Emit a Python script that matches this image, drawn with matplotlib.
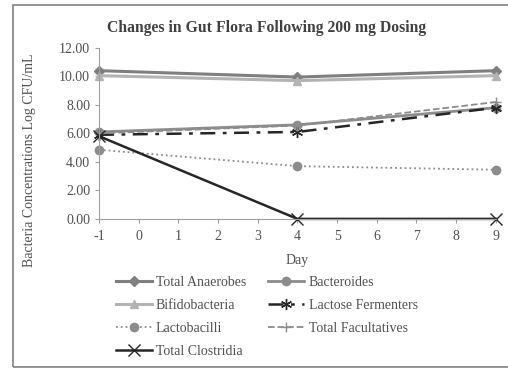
import matplotlib
matplotlib.use('Agg')
import matplotlib.pyplot as plt
from matplotlib.patches import Rectangle

# Sampling days and bacterial counts (log CFU/mL)
days = [-1, 4, 9]
total_anaerobes = [10.4, 9.95, 10.4]
bacteroides = [6.1, 6.6, 7.8]
bifidobacteria = [10.05, 9.7, 10.05]
lactose_fermenters = [5.9, 6.1, 7.8]
lactobacilli = [4.85, 3.7, 3.45]
total_facultatives = [6.0, 6.55, 8.2]
total_clostridia = [5.8, 0.0, 0.0]

x_ticks = list(range(-1, 10))
y_ticks = [0, 2, 4, 6, 8, 10, 12]

plt.rcParams['font.family'] = ['Liberation Serif', 'DejaVu Serif']
plt.rcParams['axes.unicode_minus'] = False

text_color = '#505050'

fig = plt.figure(figsize=(5.08, 3.71), dpi=100)
ax = fig.add_axes([0.195, 0.41, 0.781, 0.461])

# Outer chart border
fig.patches.append(Rectangle((0.026, 0.011), 1.2, 0.975, transform=fig.transFigure,
                             fill=False, edgecolor='#808080', linewidth=1.2))

ax.plot(days, total_anaerobes, color='#7f7f7f', linewidth=2.2, marker='D',
        markersize=5, label='Total Anaerobes')
ax.plot(days, bacteroides, color='#8c8c8c', linewidth=2, marker='o',
        markersize=6, label='Bacteroides')
ax.plot(days, bifidobacteria, color='#b3b3b3', linewidth=2.2, marker='^',
        markersize=6, label='Bifidobacteria')
ax.plot(days, lactose_fermenters, color='#262626', linewidth=1.8,
        linestyle=(0, (6, 3, 1.5, 3)), marker=(6, 2, 0), markersize=8,
        label='Lactose Fermenters')
ax.plot(days, lactobacilli, color='#8c8c8c', linewidth=1.3, linestyle=':',
        marker='o', markersize=6, label='Lactobacilli')
ax.plot(days, total_facultatives, color='#8c8c8c', linewidth=1.3,
        linestyle='--', marker='+', markersize=7, label='Total Facultatives')
ax.plot(days, total_clostridia, color='#262626', linewidth=1.8, marker='x',
        markersize=8, label='Total Clostridia')

ax.set_xlim(-1, 9)
ax.set_ylim(0, 12)
ax.set_xticks(x_ticks)
ax.set_yticks(y_ticks)
ax.set_yticklabels(['%.2f' % v for v in y_ticks])
ax.tick_params(labelsize=10, colors=text_color, length=3, color='#a0a0a0')
ax.tick_params(axis='x', pad=5)
for line in ax.lines:
    line.set_clip_on(False)

for side in ['top', 'right']:
    ax.spines[side].set_visible(False)
for side in ['left', 'bottom']:
    ax.spines[side].set_color('#a0a0a0')

fig.text(0.524, 0.925, 'Changes in Gut Flora Following 200 mg Dosing',
         ha='center', va='center', fontsize=11.3, fontweight='bold',
         color='#404040')
ax.set_xlabel('Day', fontsize=10, color=text_color, labelpad=8)
fig.text(0.058, 0.569, 'Bacteria Concentrations Log CFU/mL', rotation=90,
         ha='center', va='center', fontsize=10, color=text_color)

# Legend filled row by row: reorder entries for matplotlib's column fill
handles, labels = ax.get_legend_handles_labels()
order = [0, 2, 4, 6, 1, 3, 5]
leg = fig.legend([handles[i] for i in order], [labels[i] for i in order],
                 loc='upper left', bbox_to_anchor=(0.203, 0.29), ncol=2,
                 frameon=False, fontsize=10, handlelength=2.6,
                 columnspacing=1.6, labelspacing=0.72, handletextpad=0.3)
for text in leg.get_texts():
    text.set_color(text_color)

fig.savefig('out.png', dpi=100)
